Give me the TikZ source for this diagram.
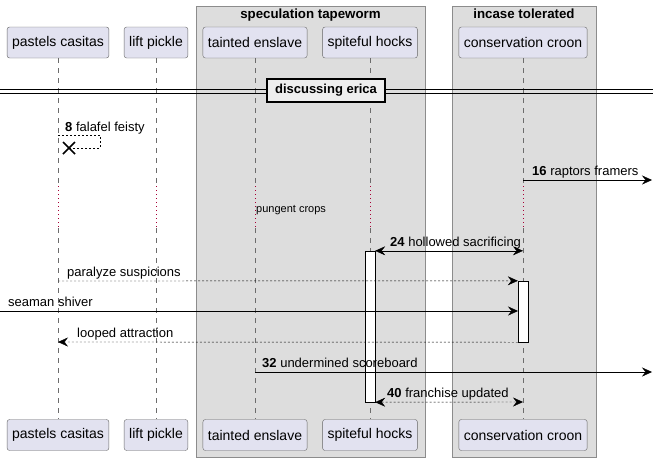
\documentclass[tikz,border=0pt]{standalone}
\usepackage{fontspec}
\setmainfont{Liberation Sans}
\usetikzlibrary{arrows.meta, positioning}
\definecolor{partfill}{HTML}{E2E2F0}
\definecolor{boxfill}{HTML}{DDDDDD}
\definecolor{divfill}{HTML}{EEEEEE}
\definecolor{delaycol}{HTML}{A80036}

\begin{document}
\begin{tikzpicture}[x=1pt, y=-1pt,
    part/.style={rectangle, draw=gray!80!black, fill=partfill, rounded corners=2.5pt,
                 minimum height=31pt, inner xsep=5pt, font=\fontsize{14}{16}\selectfont},
    grp/.style={draw=gray!90, fill=boxfill},
    grptitle/.style={font=\fontsize{13.3}{15}\selectfont\bfseries, anchor=north},
    life/.style={gray!85!black, dash pattern=on 5pt off 5pt},
    delay/.style={delaycol, dash pattern=on 1pt off 3pt},
    act/.style={draw=black, fill=white},
    msg/.style={-{Stealth[length=10pt, width=9pt, inset=3.5pt]}, black},
    both/.style={{Stealth[length=10pt, width=9pt, inset=3.5pt]}-{Stealth[length=10pt, width=9pt, inset=3.5pt]}, black},
    reply/.style={dash pattern=on 2pt off 2pt},
    lbl/.style={font=\fontsize{13}{15}\selectfont, anchor=base west, inner sep=0pt}
]
\useasboundingbox (0,0) rectangle (659,461);

% group boxes
\draw[grp] (196,6) rectangle (425,457);
\draw[grp] (452,6) rectangle (596,457);
\node[grptitle] (tape) at (310.5,5.5) {speculation tapeworm};
\node[grptitle] (incase) at (524,5.5) {incase tolerated};

% participants, top and bottom
\node[part] (pc)  at (58,42.5)  {pastels casitas};
\node[part] (lp)  at (156,42.5) {lift pickle};
\node[part] (te)  at (255,42.5) {tainted enslave};
\node[part] (sh)  at (370,42.5) {spiteful hocks};
\node[part] (cc)  at (523,42.5) {conservation croon};
\node[part] (pcb) at (58,435)   {pastels casitas};
\node[part] (lpb) at (156,435)  {lift pickle};
\node[part] (teb) at (255,435)  {tainted enslave};
\node[part] (shb) at (370,435)  {spiteful hocks};
\node[part] (ccb) at (523,435)  {conservation croon};

% lifelines, broken by the delay
\foreach \p/\x in {pc/58, lp/156, te/255, sh/370, cc/523} {
  \coordinate (\p-d1) at (\x,186);
  \coordinate (\p-d2) at (\x,228);
  \draw[life]  (\p.south) -- (\p-d1);
  \draw[delay] (\p-d1) -- (\p-d2);
  \draw[life]  (\p-d2) -- (\p b.north);
}

% divider
\draw[black, line width=0.9pt] (0,89.5) -- (653,89.5);
\draw[black, line width=0.9pt] (0,93) -- (653,93);
\node[draw=black, line width=1.6pt, fill=divfill, minimum width=118pt, minimum height=23pt,
      font=\fontsize{13}{15}\selectfont\bfseries] (erica) at (326,90.5) {discussing erica};

% activations
\node[act, minimum width=10pt, minimum height=151pt, inner sep=0pt] (shact) at (370,326.5) {};
\node[act, minimum width=10pt, minimum height=61pt, inner sep=0pt]  (ccact) at (523,311.5) {};

% 8 self message, destroyed
\coordinate (m8a) at (58,135);
\coordinate (m8b) at (100,135);
\coordinate (m8c) at (100,148);
\coordinate (m8x) at (69,148);
\draw[reply] (m8a) -- (m8b) -- (m8c) -- (m8x);
\draw[line width=1.6pt] (63,142) -- (75,154) (63,154) -- (75,142);
\node[lbl] (l8) at (65,131) {\textbf{8} falafel feisty};

% 16
\coordinate (m16a) at (523,180);
\coordinate (m16b) at (652,180);
\draw[msg] (m16a) -- (m16b);
\node[lbl] (l16) at (532,175) {\textbf{16} raptors framers};

% delay text
\node[lbl, font=\fontsize{11}{13}\selectfont] (crops) at (256,212) {pungent crops};

% 24
\draw[both] (shact.north east) -- (cc.center |- shact.north);
\node[lbl] (l24) at (390,246) {\textbf{24} hollowed sacrificing};

% paralyze suspicions
\coordinate (m1a) at (58,281);
\draw[msg, reply] (m1a) -- (ccact.north west);
\node[lbl] (l1) at (67,276) {paralyze suspicions};

% seaman shiver
\coordinate (m2a) at (0,311);
\coordinate (m2b) at (518,311);
\draw[msg] (m2a) -- (m2b);
\node[lbl] (l2) at (8,306) {seaman shiver};

% looped attraction
\coordinate (m3b) at (58,342);
\draw[msg, reply] (ccact.south west) -- (m3b);
\node[lbl] (l3) at (77,337) {looped attraction};

% 32
\coordinate (m32a) at (255,372);
\coordinate (m32b) at (652,372);
\draw[msg] (m32a) -- (m32b);
\node[lbl] (l32) at (262,367) {\textbf{32} undermined scoreboard};

% 40
\coordinate (m40b) at (523,402);
\draw[both, reply] (shact.south east) -- (m40b);
\node[lbl] (l40) at (387,397) {\textbf{40} franchise updated};
\end{tikzpicture}
\end{document}
